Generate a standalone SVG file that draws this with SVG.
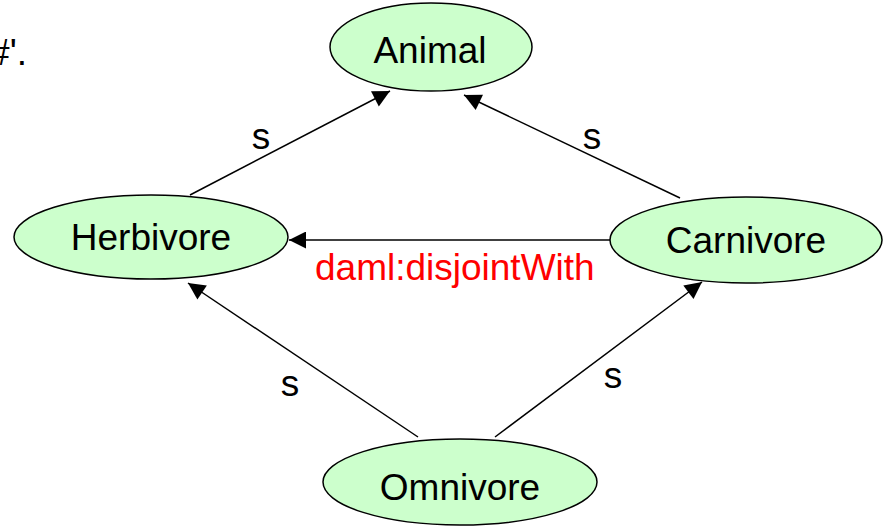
<svg xmlns="http://www.w3.org/2000/svg" width="885" height="528" viewBox="0 0 885 528">
<style>
.node ellipse{fill:#ccffcc;stroke:#000;stroke-width:1.5}
text{font-family:"Liberation Sans",Arial,sans-serif;font-size:37px;fill:#000}
.lbl{text-anchor:middle}
.edge line{stroke:#000;stroke-width:1.5;marker-end:url(#arr)}
.red{fill:#ff0000}
</style>
<defs>
<marker id="arr" viewBox="0 0 10 10" refX="10" refY="5" markerWidth="20" markerHeight="17" markerUnits="userSpaceOnUse" orient="auto">
<path d="M0,0 L10,5 L0,10 z" fill="#000"/>
</marker>
</defs>
<rect width="885" height="528" fill="#fff"/>
<text x="27" y="65" text-anchor="end">#'.</text>
<g id="connectors" class="edge">
<line x1="190" y1="195" x2="390" y2="91"/>
<line x1="680" y1="198" x2="464" y2="95"/>
<line x1="611" y1="240" x2="289" y2="240"/>
<line x1="418" y1="437" x2="188" y2="283"/>
<line x1="495" y1="437" x2="702" y2="282"/>
</g>
<g id="edge-labels">
<text class="lbl" x="261" y="149">s</text>
<text class="lbl" x="592" y="149">s</text>
<text class="lbl" x="290" y="396">s</text>
<text class="lbl" x="613" y="388">s</text>
<text class="red" x="315" y="280">daml:disjointWith</text>
</g>
<g id="animal" class="node">
<ellipse cx="431" cy="47" rx="101" ry="44"/>
<text class="lbl" x="430" y="63">Animal</text>
</g>
<g id="herbivore" class="node">
<ellipse cx="151" cy="237" rx="137" ry="42"/>
<text class="lbl" x="151" y="250">Herbivore</text>
</g>
<g id="carnivore" class="node">
<ellipse cx="746" cy="240" rx="136" ry="43"/>
<text class="lbl" x="746" y="253">Carnivore</text>
</g>
<g id="omnivore" class="node">
<ellipse cx="460" cy="482" rx="137" ry="43"/>
<text class="lbl" x="460" y="500">Omnivore</text>
</g>
</svg>
